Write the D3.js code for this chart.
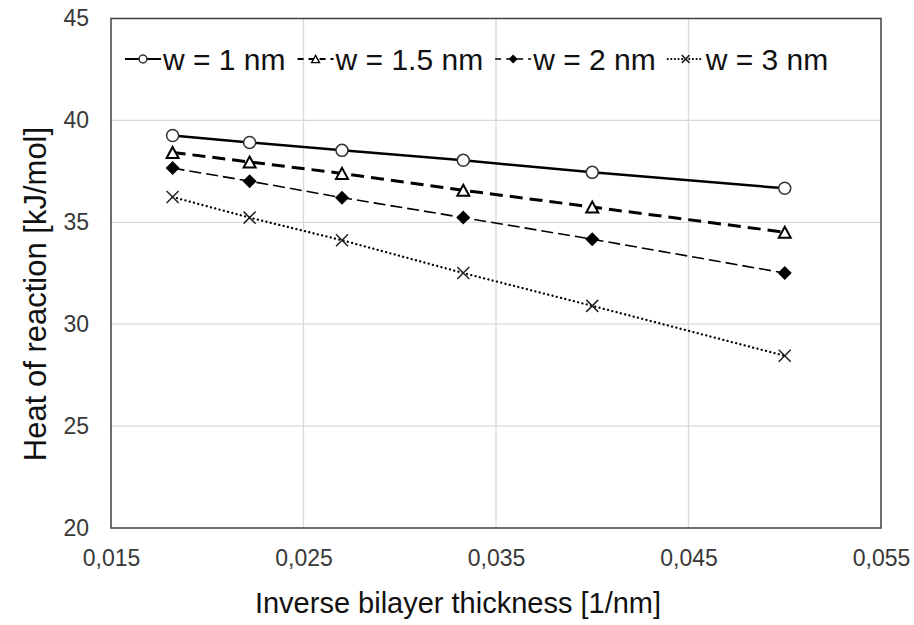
<!DOCTYPE html>
<html>
<head>
<meta charset="utf-8">
<script src="https://cdn.jsdelivr.net/npm/d3@7"></script>
<style>
  html, body { margin: 0; padding: 0; background: #fff; }
  svg { display: block; font-family: "Liberation Sans", Arial, sans-serif; }
</style>
</head>
<body>
<svg id="chart" width="914" height="625"></svg>
<script>
// Inverse bilayer thickness (1/nm) for each sample
const xValues = [0.0182, 0.0222, 0.0270, 0.0333, 0.0400, 0.0500];

// Heat of reaction (kJ/mol) per spacing w
const seriesNames = ["w = 1 nm", "w = 1.5 nm", "w = 2 nm", "w = 3 nm"];
const heatW1  = [39.26, 38.92, 38.53, 38.04, 37.45, 36.67];
const heatW15 = [38.43, 37.96, 37.40, 36.57, 35.75, 34.51];
const heatW2  = [37.66, 37.02, 36.21, 35.23, 34.17, 32.51];
const heatW3  = [36.24, 35.23, 34.12, 32.51, 30.90, 28.45];

const xTicks = [0.015, 0.025, 0.035, 0.045, 0.055];
const yTicks = [20, 25, 30, 35, 40, 45];

const xTitle = "Inverse bilayer thickness [1/nm]";
const yTitle = "Heat of reaction [kJ/mol]";

const svg = d3.select("#chart");
const plot = { left: 111, right: 881, top: 18.5, bottom: 528 };

const x = d3.scaleLinear().domain([0.015, 0.055]).range([plot.left, plot.right]);
const y = d3.scaleLinear().domain([20, 45]).range([plot.bottom, plot.top]);

const fmt = v => d3.format(".3f")(v).replace(".", ",");

// gridlines
const grid = svg.append("g");
grid.selectAll("line.gx").data(xTicks.slice(1, -1)).join("line")
  .attr("x1", d => x(d)).attr("x2", d => x(d))
  .attr("y1", plot.top).attr("y2", plot.bottom)
  .attr("stroke", "#d9d9d9").attr("stroke-width", 1.3);
grid.selectAll("line.gy").data(yTicks.slice(1, -1)).join("line")
  .attr("x1", plot.left).attr("x2", plot.right)
  .attr("y1", d => y(d)).attr("y2", d => y(d))
  .attr("stroke", "#d9d9d9").attr("stroke-width", 1.3);

// axes (labels only, ticks hidden)
const xAxis = svg.append("g").attr("transform", `translate(0,${plot.bottom})`)
  .call(d3.axisBottom(x).tickValues(xTicks).tickFormat(fmt).tickSize(0).tickPadding(22));
const yAxis = svg.append("g").attr("transform", `translate(${plot.left},0)`)
  .call(d3.axisLeft(y).tickValues(yTicks).tickFormat(d3.format("d")).tickSize(0).tickPadding(22));
[xAxis, yAxis].forEach(a => {
  a.select(".domain").remove();
  a.selectAll("text").attr("font-size", 23).attr("fill", "#383838")
    .attr("font-family", "'Liberation Sans', Arial, sans-serif");
});

// plot frame
svg.append("rect")
  .attr("x", plot.left).attr("y", plot.top)
  .attr("width", plot.right - plot.left).attr("height", plot.bottom - plot.top)
  .attr("fill", "none").attr("stroke", "#404040").attr("stroke-width", 1.5);

// series styling
const series = [
  { name: seriesNames[0], values: heatW1,  width: 2.5, dash: null,       cap: "butt",  marker: "circle" },
  { name: seriesNames[1], values: heatW15, width: 3,   dash: "13,7",     cap: "butt",  marker: "triangle" },
  { name: seriesNames[2], values: heatW2,  width: 1.6, dash: "12,5",     cap: "butt",  marker: "diamond" },
  { name: seriesNames[3], values: heatW3,  width: 2.3, dash: "0.01,4.4", cap: "round", marker: "cross" }
];

const line = d3.line().x(d => x(d[0])).y(d => y(d[1]));

function drawMarker(g, type, cx, cy, s) {
  if (type === "circle") {
    g.append("circle").attr("cx", cx).attr("cy", cy).attr("r", 6 * s)
      .attr("fill", "#fff").attr("stroke", "#333").attr("stroke-width", 1.5);
  } else if (type === "triangle") {
    const h = 11 * s, w = 12 * s;
    g.append("path")
      .attr("d", `M${cx},${cy - h / 2}L${cx + w / 2},${cy + h / 2}L${cx - w / 2},${cy + h / 2}Z`)
      .attr("fill", "#fff").attr("stroke", "#000").attr("stroke-width", 2 * Math.max(s, 0.7));
  } else if (type === "diamond") {
    const r = 7 * s;
    g.append("path")
      .attr("d", `M${cx},${cy - r}L${cx + r},${cy}L${cx},${cy + r}L${cx - r},${cy}Z`)
      .attr("fill", "#000");
  } else {
    const r = 6 * s;
    g.append("path")
      .attr("d", `M${cx - r},${cy - r}L${cx + r},${cy + r}M${cx - r},${cy + r}L${cx + r},${cy - r}`)
      .attr("stroke", "#222").attr("stroke-width", 1.5).attr("fill", "none");
  }
}

series.forEach(s => {
  const pts = xValues.map((xv, i) => [xv, s.values[i]]);
  svg.append("path").datum(pts).attr("d", line)
    .attr("fill", "none").attr("stroke", "#000")
    .attr("stroke-width", s.width)
    .attr("stroke-dasharray", s.dash)
    .attr("stroke-linecap", s.cap);
  const mg = svg.append("g");
  pts.forEach(p => drawMarker(mg, s.marker, x(p[0]), y(p[1]), 1));
});

// legend across the top of the plot
const legend = svg.append("g");
let lx = 125;
const ly = 59;
const sampleW = 36;
series.forEach(s => {
  legend.append("line")
    .attr("x1", lx).attr("x2", lx + sampleW).attr("y1", ly).attr("y2", ly)
    .attr("stroke", "#000").attr("stroke-width", Math.min(s.width, 2.2))
    .attr("stroke-dasharray", s.dash ? (s.marker === "cross" ? "0.01,3.6" : "6,5") : null)
    .attr("stroke-linecap", s.cap);
  drawMarker(legend, s.marker, lx + sampleW / 2, ly, 0.65);
  const t = legend.append("text")
    .attr("x", lx + sampleW + 2).attr("y", ly)
    .attr("dominant-baseline", "central")
    .attr("font-size", 30).attr("fill", "#111")
    .text(s.name);
  lx += sampleW + 2 + t.node().getComputedTextLength() + 12;
});

// axis titles
svg.append("text")
  .attr("x", 458).attr("y", 613)
  .attr("text-anchor", "middle").attr("font-size", 29).attr("fill", "#111")
  .text(xTitle);
svg.append("text")
  .attr("transform", "translate(46,294) rotate(-90)")
  .attr("text-anchor", "middle").attr("font-size", 31).attr("fill", "#111")
  .text(yTitle);
</script>
</body>
</html>
